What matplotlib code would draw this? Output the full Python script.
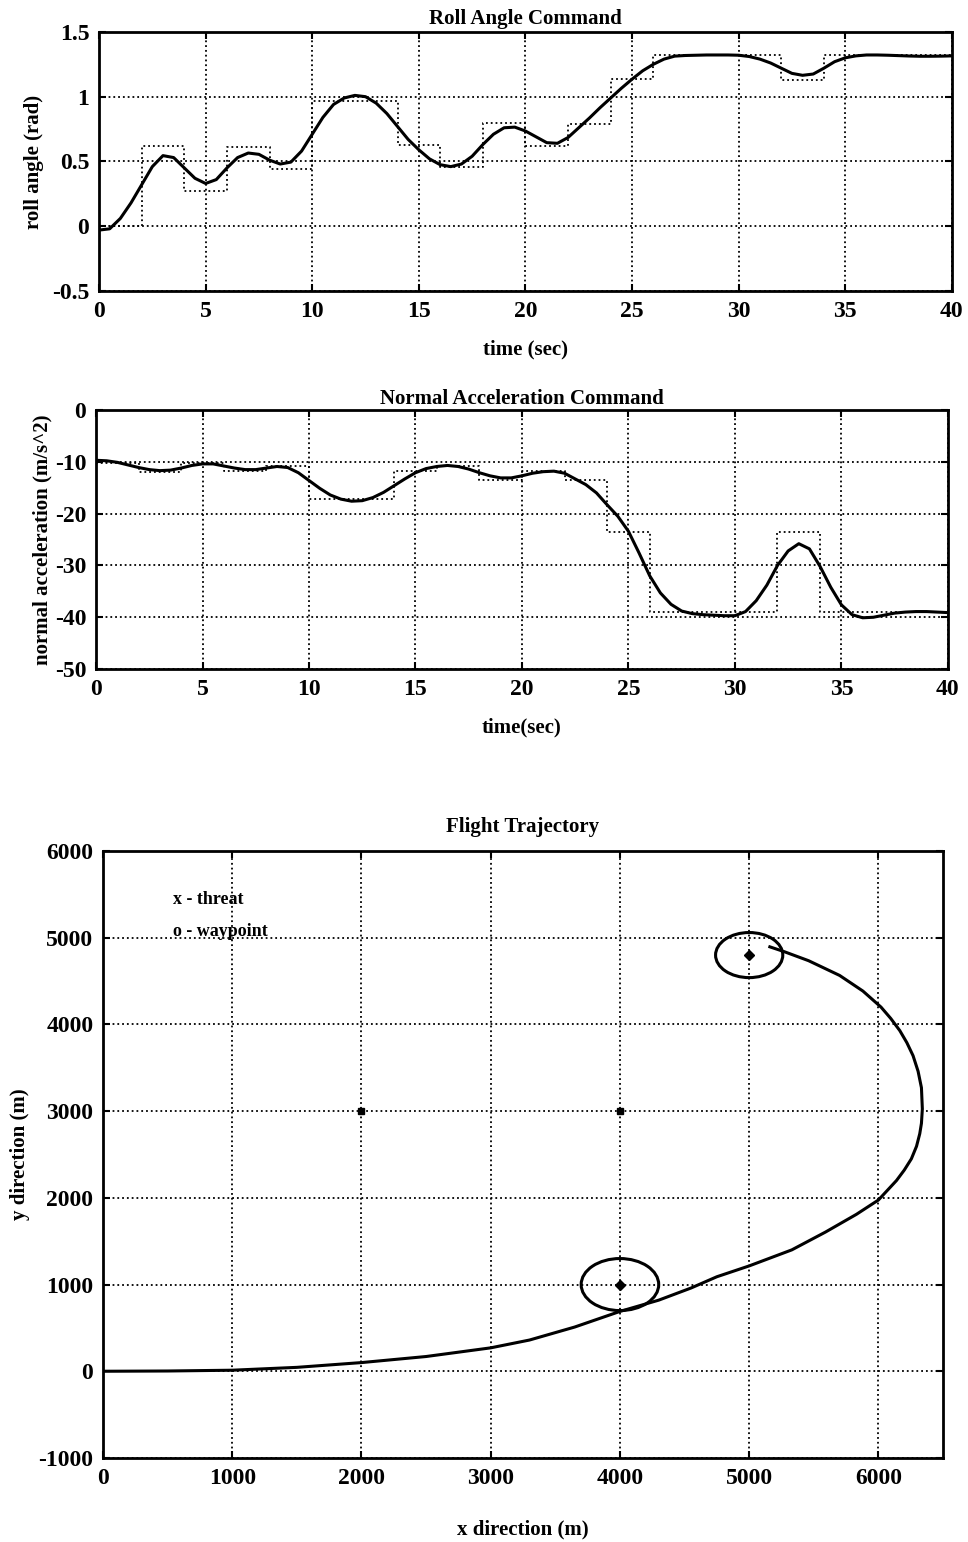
import matplotlib
matplotlib.use("Agg")
import matplotlib.pyplot as plt
from matplotlib.patches import Circle

plt.rcParams['font.family'] = ['Liberation Serif', 'DejaVu Serif']
plt.rcParams['font.weight'] = 'bold'
plt.rcParams['axes.titleweight'] = 'bold'
plt.rcParams['axes.labelweight'] = 'bold'
plt.rcParams['axes.unicode_minus'] = False

# ---- roll angle command (rad) ----
t_curve = [i * 0.5 for i in range(81)]
roll_resp = [-0.03, -0.02, 0.06, 0.18, 0.32, 0.46, 0.545, 0.53, 0.45, 0.37,
             0.33, 0.36, 0.45, 0.53, 0.565, 0.555, 0.51, 0.48, 0.495, 0.58,
             0.71, 0.84, 0.94, 0.99, 1.01, 1.0, 0.95, 0.87, 0.77, 0.67,
             0.59, 0.52, 0.475, 0.46, 0.48, 0.54, 0.63, 0.71, 0.76, 0.765,
             0.735, 0.69, 0.645, 0.64, 0.685, 0.76, 0.835, 0.915, 0.99, 1.065,
             1.135, 1.2, 1.25, 1.29, 1.313, 1.318, 1.32, 1.322, 1.322, 1.322,
             1.32, 1.31, 1.29, 1.26, 1.22, 1.18, 1.165, 1.175, 1.22, 1.27,
             1.3, 1.315, 1.322, 1.322, 1.32, 1.317, 1.314, 1.312, 1.312, 1.313,
             1.315]
step_t = [0, 2, 4, 6, 8, 10, 14, 16, 18, 20, 22, 24, 26, 32, 34, 40]
roll_cmd = [0, 0.62, 0.27, 0.61, 0.44, 0.97, 0.63, 0.455, 0.80, 0.62, 0.79,
            1.14, 1.32, 1.13, 1.32, 1.32]
roll_ticks = [-0.5, 0, 0.5, 1, 1.5]
roll_ticklabels = ['-0.5', '0', '0.5', '1', '1.5']

# ---- normal acceleration command (m/s^2) ----
acc_resp = [-9.7, -9.8, -10.1, -10.6, -11.1, -11.5, -11.7, -11.6, -11.2, -10.7,
            -10.4, -10.4, -10.8, -11.2, -11.5, -11.5, -11.2, -10.9, -11.1, -12.1,
            -13.6, -15.1, -16.4, -17.2, -17.6, -17.5, -16.9, -15.9, -14.6, -13.3,
            -12.1, -11.3, -10.9, -10.7, -10.9, -11.4, -12.1, -12.7, -13.1, -13.1,
            -12.7, -12.2, -11.9, -11.8, -12.2, -13.3, -14.4, -16.0, -18.3, -20.5,
            -23.4, -27.6, -32.0, -35.3, -37.5, -38.8, -39.3, -39.5, -39.6, -39.7,
            -39.7, -38.9, -36.8, -33.8, -30.0, -27.2, -25.8, -26.8, -30.2, -34.2,
            -37.6, -39.5, -40.1, -40.0, -39.6, -39.2, -39.0, -38.9, -38.9, -39.0,
            -39.1]
acc_cmd = [-10.2, -11.9, -10.2, -11.7, -10.8, -17.2, -11.7, -10.8, -13.5, -11.7,
           -13.6, -23.6, -39.0, -23.6, -39.0, -39.0]
acc_ticks = [-50, -40, -30, -20, -10, 0]

time_ticks = [0, 5, 10, 15, 20, 25, 30, 35, 40]

# ---- flight trajectory (m) ----
traj_x = [0, 500, 1000, 1500, 2000, 2500, 3000, 3300, 3650, 4000, 4300, 4550,
          4750, 5000, 5330, 5590, 5830, 6000, 6140, 6200, 6255, 6295, 6320,
          6333, 6340, 6333, 6307, 6268, 6220, 6165, 6095, 6020, 5880, 5700,
          5460, 5270, 5160]
traj_y = [0, 3, 12, 45, 100, 170, 270, 360, 510, 690, 820, 960,
          1090, 1215, 1400, 1605, 1810, 1975, 2200, 2320, 2450, 2595, 2740,
          2860, 3025, 3270, 3460, 3640, 3790, 3930, 4070, 4200, 4385, 4565,
          4735, 4840, 4895]
threat_x = [2000, 4000]
threat_y = [3000, 3000]
waypoint_x = [4000, 5000]
waypoint_y = [1000, 4800]
waypoint_r = [300, 260]
traj_xticks = [0, 1000, 2000, 3000, 4000, 5000, 6000]
traj_yticks = [-1000, 0, 1000, 2000, 3000, 4000, 5000, 6000]

fig = plt.figure(figsize=(9.68, 15.42), dpi=100)


def style(ax):
    ax.grid(True, color='black', linestyle=':', linewidth=1.3)
    ax.tick_params(direction='in', top=True, right=True, length=5, width=1.5,
                   labelsize=17, pad=7)
    for s in ax.spines.values():
        s.set_linewidth(2)


line_kw = dict(color='black', linewidth=2.2, solid_joinstyle='round')

ax1 = fig.add_axes([0.1023, 0.8113, 0.881, 0.168])
ax1.plot(t_curve, roll_resp, **line_kw)
ax1.step(step_t, roll_cmd, where='post', color='black', linestyle=':', linewidth=1.3)
ax1.set_xlim(0, 40)
ax1.set_ylim(-0.5, 1.5)
ax1.set_xticks(time_ticks)
ax1.set_yticks(roll_ticks)
ax1.set_yticklabels(roll_ticklabels)
ax1.set_title('Roll Angle Command', fontsize=15, pad=6)
ax1.set_xlabel('time (sec)', fontsize=15, labelpad=13)
ax1.set_ylabel('roll angle (rad)', fontsize=15, labelpad=6)
style(ax1)

ax2 = fig.add_axes([0.0992, 0.5661, 0.880, 0.168])
ax2.plot(t_curve, acc_resp, **line_kw)
ax2.step(step_t, acc_cmd, where='post', color='black', linestyle=':', linewidth=1.3)
ax2.set_xlim(0, 40)
ax2.set_ylim(-50, 0)
ax2.set_xticks(time_ticks)
ax2.set_yticks(acc_ticks)
ax2.set_title('Normal Acceleration Command', fontsize=15, pad=4)
ax2.set_xlabel('time(sec)', fontsize=15, labelpad=13)
ax2.set_ylabel('normal acceleration (m/s^2)', fontsize=15, labelpad=2)
style(ax2)

ax3 = fig.add_axes([0.1064, 0.0545, 0.8678, 0.3936])
ax3.plot(traj_x, traj_y, **line_kw)
for cx, cy, r in zip(waypoint_x, waypoint_y, waypoint_r):
    ax3.add_patch(Circle((cx, cy), r, fill=False, edgecolor='black', linewidth=2.2))
ax3.plot(waypoint_x, waypoint_y, 'D', color='black', markersize=5)
ax3.plot(threat_x, threat_y, 's', color='black', markersize=4)
ax3.text(540, 5440, 'x - threat', fontsize=13, va='center')
ax3.text(540, 5075, 'o - waypoint', fontsize=13, va='center')
ax3.set_xlim(0, 6500)
ax3.set_ylim(-1000, 6000)
ax3.set_xticks(traj_xticks)
ax3.set_yticks(traj_yticks)
ax3.set_title('Flight Trajectory', fontsize=15, pad=14)
ax3.set_xlabel('x direction (m)', fontsize=15, labelpad=22)
ax3.set_ylabel('y direction (m)', fontsize=15, labelpad=6)
style(ax3)

fig.savefig('out.png', dpi=100)
